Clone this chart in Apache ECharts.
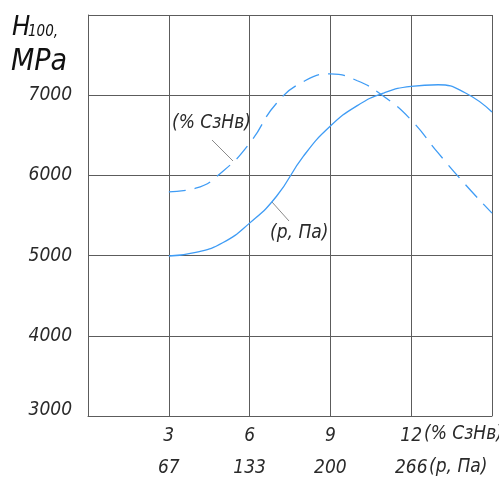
<!DOCTYPE html>
<html>
<head>
<meta charset="utf-8">
<script src="https://cdn.jsdelivr.net/npm/echarts@6/dist/echarts.min.js"></script>
<style>
  html, body { margin: 0; padding: 0; background: #fff; }
  #main { width: 499px; height: 479px; }
</style>
</head>
<body>
<div id="main"></div>
<script>
  // x axis: % СзНв (top row) and р, Па (bottom row)
  const xTicks = [3, 6, 9, 12];
  const pctLabels = ['3', '6', '9', '12'];
  const paLabels = ['67', '133', '200', '266'];
  const yTicks = [3000, 4000, 5000, 6000, 7000];

  // dashed curve, H100 vs % СзНв
  const pctX = [3, 4, 5, 6, 7, 8, 9, 10, 11, 12, 13, 14, 15];
  const pctH = [5795, 5840, 6050, 6400, 6900, 7170, 7265, 7180, 6980, 6690, 6280, 5890, 5530];

  // solid curve, H100 vs р, Па
  const paX = [3, 4, 5, 6, 7, 8, 9, 10, 11, 12, 13, 14, 15];
  const paH = [4995, 5040, 5160, 5405, 5740, 6240, 6615, 6870, 7030, 7110, 7130, 7030, 6790];

  const font = "'DejaVu Sans Condensed', 'Liberation Sans Narrow', sans-serif";
  const textColor = '#2a2a2a';
  const gridColor = '#5c5c5c';
  const lineColor = '#3f9cf5';

  function pairs(xs, ys) {
    return xs.map((x, i) => [x, ys[i]]);
  }

  const chart = echarts.init(document.getElementById('main'));

  const option = {
    animation: false,
    grid: { left: 88, right: 7, top: 15, bottom: 63, containLabel: false, outerBoundsMode: 'none' },
    xAxis: {
      type: 'value',
      min: 0,
      max: 15,
      interval: 3,
      axisLine: { show: true, lineStyle: { color: gridColor, width: 1 } },
      axisTick: { show: false },
      splitLine: { show: true, lineStyle: { color: gridColor, width: 1 } },
      axisLabel: {
        margin: 4,
        fontFamily: font,
        fontStyle: 'italic',
        fontSize: 19,
        lineHeight: 32,
        color: textColor,
        formatter: function (v) {
          const i = xTicks.indexOf(v);
          if (i < 0) return '';
          return pctLabels[i] + '\n' + paLabels[i];
        }
      }
    },
    yAxis: {
      type: 'value',
      min: 3000,
      max: 8000,
      interval: 1000,
      axisLine: { show: true, lineStyle: { color: gridColor, width: 1 } },
      axisTick: { show: false },
      splitLine: { show: true, lineStyle: { color: gridColor, width: 1 } },
      axisLabel: {
        margin: 16,
        fontFamily: font,
        fontStyle: 'italic',
        fontSize: 19,
        color: textColor,
        formatter: function (v) {
          if (yTicks.indexOf(v) < 0) return '';
          if (v === yTicks[0]) return '{lo|' + v + '}';
          return String(v);
        },
        rich: {
          lo: {
            fontFamily: font,
            fontStyle: 'italic',
            fontSize: 19,
            color: textColor,
            padding: [0, 0, 12, 0]
          }
        }
      }
    },
    series: [
      {
        name: '% СзНв',
        type: 'line',
        smooth: 0.5,
        showSymbol: false,
        data: pairs(pctX, pctH),
        lineStyle: { color: lineColor, width: 1.3, type: [17, 9] }
      },
      {
        name: 'р, Па',
        type: 'line',
        smooth: 0.5,
        showSymbol: false,
        data: pairs(paX, paH),
        lineStyle: { color: lineColor, width: 1.3 }
      }
    ],
    graphic: [
      { type: 'text', left: 12, top: 14, style: { text: 'H', font: 'italic 27px ' + font, fill: '#111' } },
      { type: 'text', left: 28, top: 25, style: { text: '100,', font: 'italic 15px ' + font, fill: '#111' } },
      { type: 'text', left: 11, top: 47, style: { text: 'MPa', font: 'italic 30px ' + font, fill: '#111' } },
      // axis unit names
      { type: 'text', left: 424, top: 425, style: { text: '(% СзНв)', font: 'italic 19px ' + font, fill: textColor } },
      { type: 'text', left: 429, top: 458, style: { text: '(р, Па)', font: 'italic 19px ' + font, fill: textColor } },
      // curve annotations
      { type: 'text', left: 172, top: 114, style: { text: '(% СзНв)', font: 'italic 19px ' + font, fill: textColor } },
      { type: 'line', shape: { x1: 212, y1: 140, x2: 233, y2: 161 }, style: { stroke: '#8a8a8a', lineWidth: 1 } },
      { type: 'text', left: 270, top: 224, style: { text: '(р, Па)', font: 'italic 19px ' + font, fill: textColor } },
      { type: 'line', shape: { x1: 272, y1: 202, x2: 289, y2: 221 }, style: { stroke: '#8a8a8a', lineWidth: 1 } }
    ]
  };

  chart.setOption(option);
</script>
</body>
</html>
